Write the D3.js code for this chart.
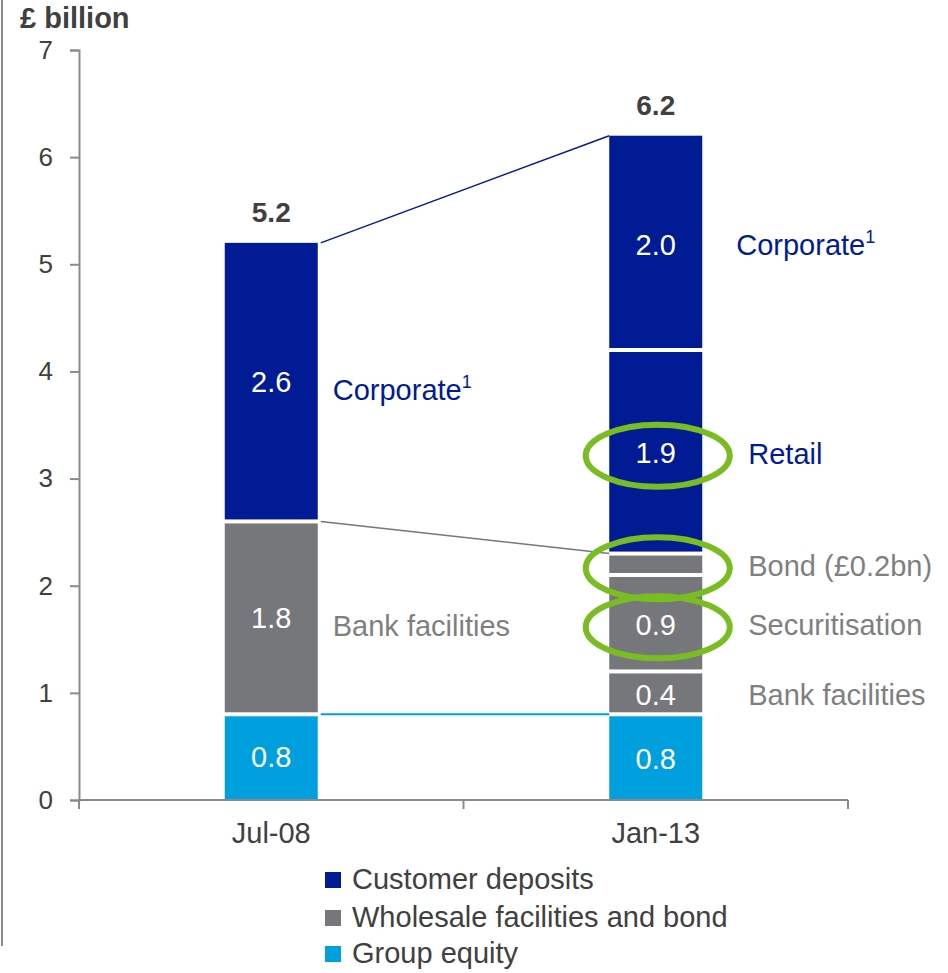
<!DOCTYPE html>
<html>
<head>
<meta charset="utf-8">
<script src="https://cdn.jsdelivr.net/npm/d3@7"></script>
<style>
  html, body { margin: 0; padding: 0; background: #ffffff; }
  svg { display: block; font-family: "Liberation Sans", Arial, sans-serif; }
</style>
</head>
<body>
<svg id="chart" width="948" height="973"></svg>
<script>
// Funding sources, £ billion, stacked bottom-up
const periods = ["Jul-08", "Jan-13"];

const jul08Names  = ["Group equity", "Bank facilities", "Corporate"];
const jul08Types  = ["equity", "wholesale", "deposits"];
const jul08Values = [0.8, 1.8, 2.6];

const jan13Names  = ["Group equity", "Bank facilities", "Securitisation", "Bond (£0.2bn)", "Retail", "Corporate"];
const jan13Types  = ["equity", "wholesale", "wholesale", "wholesale", "deposits", "deposits"];
const jan13Values = [0.8, 0.4, 0.9, 0.2, 1.9, 2.0];

const periodTotals = [5.2, 6.2];
const highlighted  = ["Retail", "Securitisation", "Bond (£0.2bn)"];

const legendNames = ["Customer deposits", "Wholesale facilities and bond", "Group equity"];
const legendTypes = ["deposits", "wholesale", "equity"];

const yTicks = [0, 1, 2, 3, 4, 5, 6, 7];

// Styling
const colour = { deposits: "#001B94", wholesale: "#76777A", equity: "#00A0DF" };
const labelColour = { deposits: "#001B94", wholesale: "#7F7F7F", equity: "#7F7F7F" };
const textDark = "#404040";
const ringColour = "#7ABD22";
const barWidth = 93;
const gap = 2;

const svg = d3.select("#chart");

const y = d3.scaleLinear().domain([0, 7]).range([800, 50]);
const x = d3.scaleBand().domain(periods).range([79, 848]).padding(0);
const cx = p => x(p) + x.bandwidth() / 2;

// Frame line on the left
svg.append("line")
  .attr("x1", 2).attr("x2", 2).attr("y1", 0).attr("y2", 946)
  .attr("stroke", "#8a8a8a").attr("stroke-width", 2);

// Y axis
const yAxis = svg.append("g")
  .attr("transform", "translate(79,0)")
  .call(d3.axisLeft(y).tickValues(yTicks).tickFormat(d3.format("d")).tickSize(9).tickPadding(17));
yAxis.select(".domain").attr("stroke", "#8a8a8a").attr("stroke-width", 2);
yAxis.selectAll(".tick line").attr("stroke", "#8a8a8a").attr("stroke-width", 2);
yAxis.selectAll(".tick text")
  .attr("font-size", 26).attr("fill", textDark)
  .attr("font-family", "Liberation Sans, Arial, sans-serif");

svg.append("text")
  .attr("x", 20).attr("y", 20)
  .attr("dominant-baseline", "middle")
  .attr("font-size", 29).attr("font-weight", "bold").attr("fill", textDark)
  .text("£ billion");

// Stack segments for each period
function stackSegments(names, types, values) {
  let acc = 0;
  return values.map((v, i) => {
    const seg = { name: names[i], type: types[i], value: v, y0: acc, y1: acc + v, index: i, count: values.length };
    acc += v;
    return seg;
  });
}
const stacks = [
  { period: periods[0], segs: stackSegments(jul08Names, jul08Types, jul08Values), dy: 2 },
  { period: periods[1], segs: stackSegments(jan13Names, jan13Types, jan13Values), dy: 4 }
];

// Connector lines between the two bars
const left = stacks[0], right = stacks[1];
const lx = cx(left.period) + barWidth / 2 + 3;
const rx = cx(right.period) - barWidth / 2;
const connectors = [
  { from: periodTotals[0], to: periodTotals[1], colour: colour.deposits, w: 1.5 },
  { from: left.segs[1].y1, to: right.segs[3].y1, colour: colour.wholesale, w: 1.5 },
  { from: left.segs[0].y1, to: right.segs[0].y1, colour: colour.equity, w: 2 }
];
svg.selectAll("line.connector").data(connectors).enter().append("line")
  .attr("class", "connector")
  .attr("x1", lx).attr("y1", d => y(d.from))
  .attr("x2", rx).attr("y2", d => y(d.to))
  .attr("stroke", d => d.colour).attr("stroke-width", d => d.w);

// Bars
stacks.forEach(st => {
  const g = svg.append("g");
  g.selectAll("rect").data(st.segs).enter().append("rect")
    .attr("x", cx(st.period) - barWidth / 2)
    .attr("width", barWidth)
    .attr("y", d => y(d.y1) + (d.index === d.count - 1 ? 0 : gap))
    .attr("height", d => y(d.y0) - y(d.y1)
      - (d.index === d.count - 1 ? 0 : gap) - (d.index === 0 ? 0 : gap))
    .attr("fill", d => colour[d.type]);

  // Values inside segments (the thin bond slice carries its value in its side label)
  g.selectAll("text.val").data(st.segs.filter(d => d.value >= 0.3)).enter().append("text")
    .attr("class", "val")
    .attr("x", cx(st.period))
    .attr("y", d => y((d.y0 + d.y1) / 2) + st.dy)
    .attr("text-anchor", "middle").attr("dominant-baseline", "middle")
    .attr("font-size", 29).attr("fill", "#ffffff")
    .text(d => d3.format(".1f")(d.value));
});

// Totals above bars
svg.selectAll("text.total").data(periods).enter().append("text")
  .attr("class", "total")
  .attr("x", p => cx(p))
  .attr("y", (p, i) => y(periodTotals[i]) - 28)
  .attr("text-anchor", "middle").attr("dominant-baseline", "middle")
  .attr("font-size", 28).attr("font-weight", "bold").attr("fill", textDark)
  .text((p, i) => d3.format(".1f")(periodTotals[i]));

// Highlight rings on the right-hand bar
svg.selectAll("ellipse.ring")
  .data(right.segs.filter(d => highlighted.includes(d.name)))
  .enter().append("ellipse")
  .attr("class", "ring")
  .attr("cx", cx(right.period) + 2)
  .attr("cy", d => y((d.y0 + d.y1) / 2) + 4)
  .attr("rx", 72).attr("ry", 31)
  .attr("fill", "none").attr("stroke", ringColour).attr("stroke-width", 6);

// Side labels
function sideLabels(st, xPos, dy, corporateX) {
  const items = st.segs.filter(d => d.type !== "equity");
  const t = svg.selectAll(null).data(items).enter().append("text")
    .attr("x", d => d.name === "Corporate" ? corporateX : xPos)
    .attr("y", d => y((d.y0 + d.y1) / 2) + dy)
    .attr("dominant-baseline", "middle")
    .attr("font-size", 29)
    .attr("fill", d => labelColour[d.type]);
  t.append("tspan").text(d => d.name);
  t.filter(d => d.name === "Corporate").append("tspan")
    .attr("font-size", 18).attr("dy", -9).text("1");
}
const leftEdgeR = cx(left.period) + barWidth / 2;
const rightEdgeR = cx(right.period) + barWidth / 2;
sideLabels(left, leftEdgeR + 15, 10, leftEdgeR + 15);
sideLabels(right, rightEdgeR + 46, 4, rightEdgeR + 34);

// X axis with ticks at category boundaries
const xEdges = periods.map(p => x(p)).concat([x.range()[1]]);
svg.append("line")
  .attr("x1", x.range()[0]).attr("x2", x.range()[1])
  .attr("y1", y(0)).attr("y2", y(0))
  .attr("stroke", "#8a8a8a").attr("stroke-width", 2);
svg.selectAll("line.xtick").data(xEdges).enter().append("line")
  .attr("class", "xtick")
  .attr("x1", d => d).attr("x2", d => d)
  .attr("y1", y(0)).attr("y2", y(0) + 9)
  .attr("stroke", "#8a8a8a").attr("stroke-width", 2);
svg.selectAll("text.xlab").data(periods).enter().append("text")
  .attr("class", "xlab")
  .attr("x", p => cx(p)).attr("y", 835)
  .attr("text-anchor", "middle").attr("dominant-baseline", "middle")
  .attr("font-size", 29).attr("fill", textDark)
  .text(p => p);

// Legend
const legendRows = [880, 918, 954];
const legend = svg.selectAll("g.legend").data(legendNames).enter().append("g")
  .attr("class", "legend")
  .attr("transform", (d, i) => `translate(325,${legendRows[i]})`);
legend.append("rect")
  .attr("x", 0).attr("y", -8).attr("width", 16).attr("height", 16)
  .attr("fill", (d, i) => colour[legendTypes[i]]);
legend.append("text")
  .attr("x", 27).attr("y", 1)
  .attr("dominant-baseline", "middle")
  .attr("font-size", 29).attr("fill", textDark)
  .text(d => d);
</script>
</body>
</html>
